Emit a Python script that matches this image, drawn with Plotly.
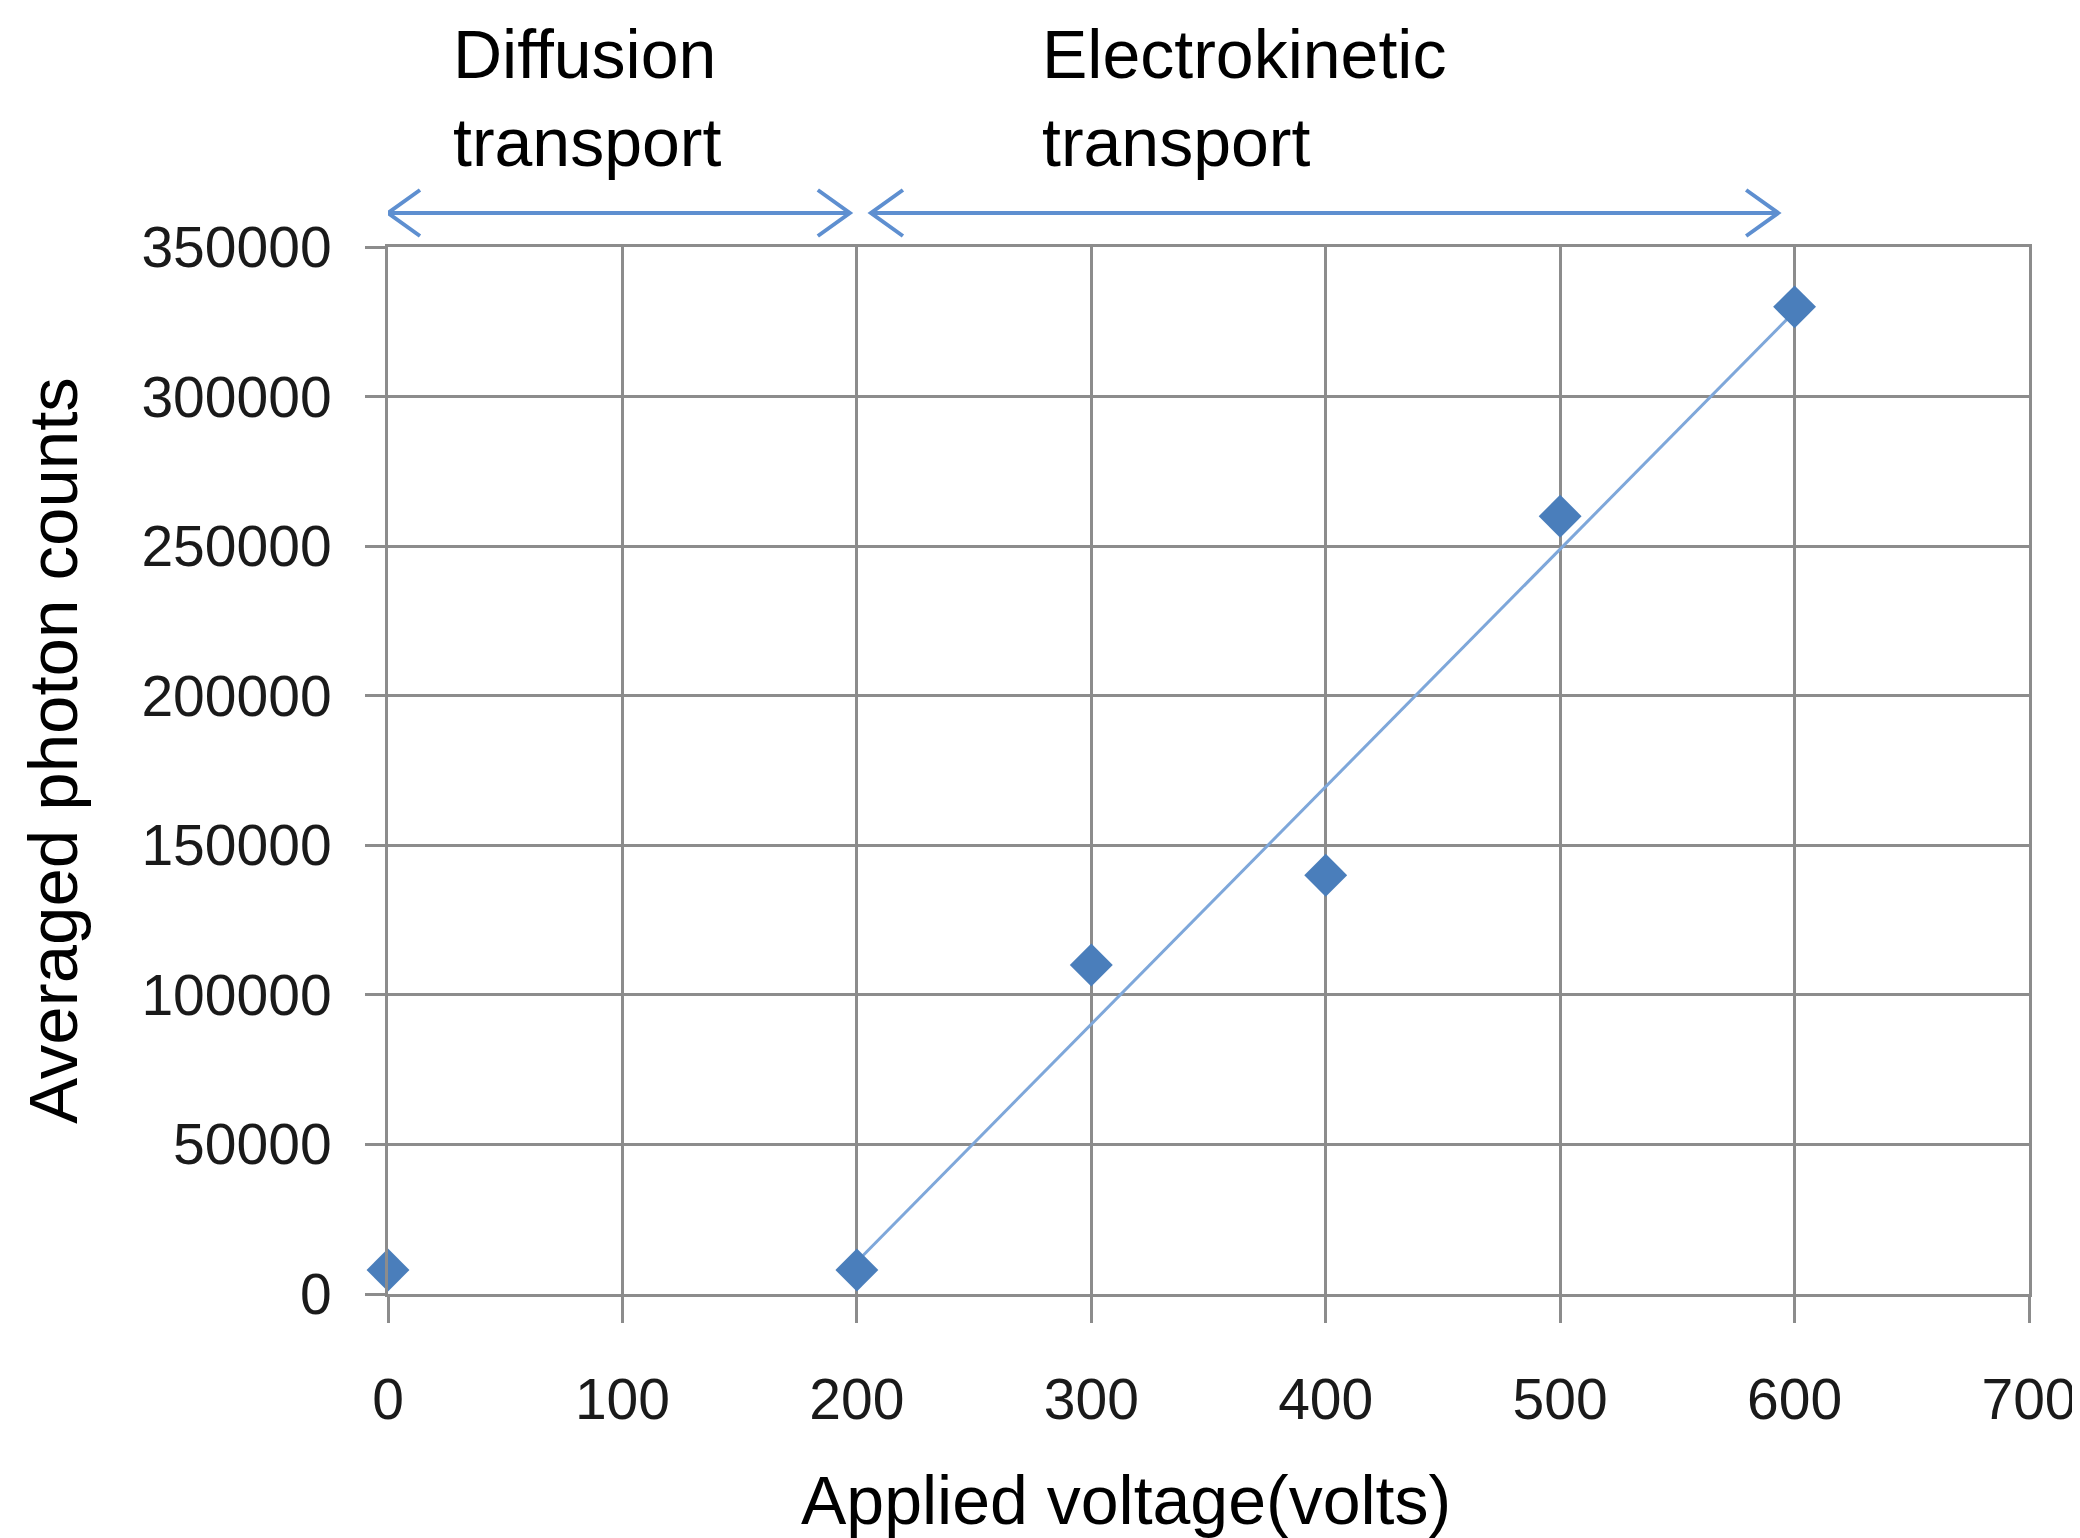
import numpy as np
import plotly.graph_objects as go

# ---- data ----
voltage = [0, 200, 300, 400, 500, 600]
photon_counts = [8000, 8000, 110000, 140000, 260000, 330000]
fit_mask_start = 1  # trendline uses the electrokinetic points (200..600 V)

x_ticks = [0, 100, 200, 300, 400, 500, 600, 700]
y_ticks = [0, 50000, 100000, 150000, 200000, 250000, 300000, 350000]

x_title = "Applied voltage(volts)"
y_title = "Averaged photon counts"
region_labels = ["Diffusion<br>transport", "Electrokinetic<br>transport"]
region_spans = [(0, 197), (206, 593)]
region_label_x = [27, 278]

FONT = "Liberation Sans, Arial, sans-serif"
GRID = "#8c8c8c"
MARK = "#4a7ebb"
TREND = "#7ea7da"
ARROW = "#5e8fd0"

fx = np.array(voltage[fit_mask_start:], dtype=float)
fy = np.array(photon_counts[fit_mask_start:], dtype=float)
slope, intercept = np.polyfit(fx, fy, 1)
trend_x = [fx.min(), fx.max()]
trend_y = [slope * v + intercept for v in trend_x]

fig = go.Figure()
fig.add_trace(go.Scatter(x=trend_x, y=trend_y, mode="lines",
                         line=dict(color=TREND, width=3), showlegend=False,
                         hoverinfo="skip"))
fig.add_trace(go.Scatter(x=voltage, y=photon_counts, mode="markers",
                         marker=dict(symbol="diamond", size=33, color=MARK,
                                     line=dict(width=0)),
                         showlegend=False, cliponaxis=False))

OFF = 8  # page body margin
W, H = 2080 - OFF, 1538 - OFF
L, R, T, B = 388 - OFF, 51, 247 - OFF, 244

axis_common = dict(showgrid=True, gridcolor=GRID, gridwidth=3,
                   showline=True, linecolor=GRID, linewidth=3, mirror=True,
                   ticks="outside", tickcolor=GRID, tickwidth=3,
                   zeroline=False,
                   tickfont=dict(family=FONT, size=57, color="#1a1a1a"))

fig.update_xaxes(range=[0, 700], tickvals=x_ticks, ticklen=26,
                 ticklabelstandoff=28, **axis_common)
fig.update_yaxes(range=[0, 350000], tickvals=y_ticks, ticklen=20,
                 ticktext=[str(v) for v in y_ticks],
                 ticklabelstandoff=22, **axis_common)

plot_h = H - T - B
plot_w = W - L - R


def px_x(p):
    return (p - OFF - L) / plot_w


def px_y(p):
    return (H - B - (p - OFF)) / plot_h


annotations = [
    dict(text=x_title, xref="paper", yref="paper",
         x=px_x(1126), y=px_y(1500),
         xanchor="center", yanchor="middle", showarrow=False,
         font=dict(family=FONT, size=68, color="#000")),
    dict(text=y_title, xref="paper", yref="paper", textangle=-90,
         x=px_x(53), y=px_y(751),
         xanchor="center", yanchor="middle", showarrow=False,
         font=dict(family=FONT, size=69, color="#000")),
]
for lbl, lx in zip(region_labels, region_label_x):
    annotations.append(dict(text=lbl, xref="x", yref="paper", x=lx,
                            y=px_y(98), xanchor="left",
                            yanchor="middle", align="left", showarrow=False,
                            font=dict(family=FONT, size=68, color="#000")))

shapes = []
ay = px_y(213)
hx = 32 / plot_w * 700  # head length in x units
hy = 23 / plot_h        # head half-height in paper units
for x0, x1 in region_spans:
    path = (f"M {x0},{ay} L {x1},{ay} "
            f"M {x0 + hx},{ay + hy} L {x0},{ay} L {x0 + hx},{ay - hy} "
            f"M {x1 - hx},{ay + hy} L {x1},{ay} L {x1 - hx},{ay - hy}")
    shapes.append(dict(type="path", xref="x", yref="paper", path=path,
                       line=dict(color=ARROW, width=4)))

fig.update_layout(width=W, height=H,
                  margin=dict(l=L, r=R, t=T, b=B, autoexpand=False),
                  paper_bgcolor="white", plot_bgcolor="white",
                  annotations=annotations, shapes=shapes,
                  font=dict(family=FONT))

fig.write_html("out.html")
